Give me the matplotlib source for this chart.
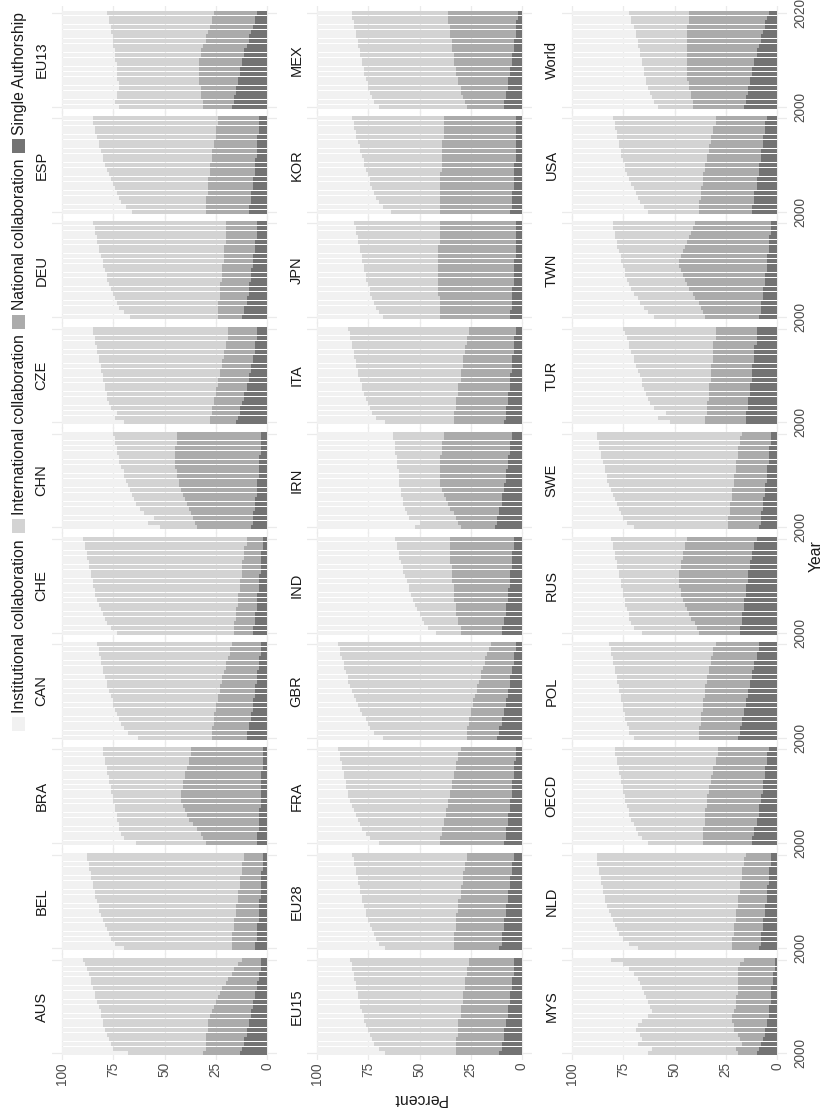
import matplotlib
matplotlib.use("Agg")
import matplotlib.pyplot as plt
from matplotlib.patches import Rectangle
import numpy as np

plt.rcParams['font.family'] = ['Liberation Sans', 'DejaVu Sans']

YEARS = [2000, 2001, 2002, 2003, 2004, 2005, 2006, 2007, 2008, 2009, 2010,
         2011, 2012, 2013, 2014, 2015, 2016, 2017, 2018, 2019, 2020]
YEAR_TICKS = [2000, 2020]
PCT_TICKS = [0, 25, 50, 75, 100]

COUNTRIES = ["AUS", "BEL", "BRA", "CAN", "CHE", "CHN", "CZE", "DEU", "ESP", "EU13",
             "EU15", "EU28", "FRA", "GBR", "IND", "IRN", "ITA", "JPN", "KOR", "MEX",
             "MYS", "NLD", "OECD", "POL", "RUS", "SWE", "TUR", "TWN", "USA", "World"]

CATEGORIES = ["Institutional collaboration", "International collaboration",
              "National collaboration", "Single Authorship"]
CAT_COLORS = ["#F1F1F1", "#D3D3D3", "#ABABAB", "#737373"]

# shares (%) per year 2000..2020 : single authorship, national, international
AUS_S = [13,12,11,11,10,10,9,9,8,8,7,7,6,6,5,5,4,4,3,3,3]
AUS_N = [18,18,19,19,20,19,20,20,20,19,19,18,18,17,17,15,15,13,13,11,9]
AUS_I = [37,45,46,47,48,50,51,51,53,54,56,58,60,61,63,66,67,70,72,75,78]

BEL_S = [6,6,5,5,5,5,4,4,4,4,4,3,3,3,3,3,3,2,2,2,2]
BEL_N = [11,11,12,12,11,11,12,11,11,11,10,11,11,10,10,10,9,10,10,9,9]
BEL_I = [53,57,59,60,62,63,64,66,67,67,69,70,70,72,72,73,74,75,75,77,77]

BRA_S = [5,5,5,4,4,4,4,4,3,3,3,3,3,3,3,3,2,2,2,2,2]
BRA_N = [25,26,27,30,32,34,35,36,38,39,39,39,38,38,37,37,37,36,36,35,35]
BRA_I = [34,39,39,38,36,35,34,34,33,33,33,34,35,36,37,38,39,41,41,43,43]

CAN_S = [10,10,9,9,8,8,7,7,7,6,6,6,5,5,5,4,4,4,3,3,3]
CAN_N = [17,17,18,17,18,18,18,18,17,18,17,17,17,17,16,16,16,15,15,15,14]
CAN_I = [36,41,43,45,46,47,49,50,51,52,54,55,56,57,59,60,61,62,64,64,66]

CHE_S = [7,7,6,6,6,5,5,5,5,4,4,4,4,3,3,3,3,3,2,2,2]
CHE_N = [9,9,10,9,9,10,9,9,9,9,9,9,8,9,9,9,8,8,9,8,8]
CHE_I = [57,60,62,64,65,66,68,69,70,71,72,72,74,74,75,75,77,77,78,79,80]

CHN_S = [8,7,7,7,6,6,6,5,5,5,5,4,4,4,4,4,3,3,3,3,3]
CHN_N = [26,28,29,30,32,33,34,36,37,38,38,40,40,41,41,41,42,42,41,41,41]
CHN_I = [18,23,19,23,24,25,25,25,25,25,26,26,26,26,27,27,28,28,30,30,31]

CZE_S = [15,14,13,13,12,11,11,10,10,9,9,8,8,7,7,6,6,6,5,5,5]
CZE_N = [13,14,14,14,14,15,14,15,14,15,14,15,14,15,14,15,14,14,14,14,14]
CZE_I = [42,46,46,49,51,52,53,54,55,56,57,58,59,60,61,62,63,64,65,66,66]

DEU_S = [12,11,11,10,10,9,9,9,8,8,8,7,7,7,6,6,6,5,5,5,5]
DEU_N = [12,13,13,14,13,14,14,14,14,14,14,15,14,14,15,15,14,15,15,15,15]
DEU_I = [43,46,48,49,51,52,53,54,56,56,57,58,59,60,61,61,63,63,64,64,65]

ESP_S = [9,9,8,8,8,7,7,7,6,6,6,6,5,5,5,5,5,4,4,4,4]
ESP_N = [21,21,22,22,21,22,22,22,22,22,22,21,22,22,21,21,20,21,21,20,20]
ESP_I = [36,39,41,42,44,45,46,47,49,50,51,53,53,54,56,56,58,59,59,61,61]

EU13_S = [17,16,16,15,15,14,14,13,13,12,12,11,11,10,9,9,8,7,6,6,5]
EU13_N = [14,15,16,17,17,19,19,20,20,21,21,21,21,21,21,21,21,21,21,21,21]
EU13_I = [41,43,41,41,40,39,40,40,40,40,41,42,42,44,45,45,47,48,50,50,52]

EU15_S = [11,10,10,9,9,9,8,8,7,7,7,6,6,6,5,5,5,4,4,4,4]
EU15_N = [21,22,22,23,22,22,23,23,23,23,23,23,23,23,23,23,23,23,23,22,22]
EU15_I = [35,38,40,41,43,44,45,46,47,48,49,50,51,51,53,53,54,55,56,57,58]

EU28_S = [11,10,10,10,9,9,9,8,8,8,7,7,7,6,6,6,5,5,5,4,4]
EU28_N = [22,23,23,23,23,23,23,24,23,23,24,23,23,24,23,23,24,23,23,23,23]
EU28_I = [34,37,38,39,41,42,43,44,45,46,47,48,49,49,51,51,52,53,54,55,56]

FRA_S = [9,8,8,8,7,7,7,6,6,6,5,5,5,5,4,4,4,4,3,3,3]
FRA_N = [31,32,31,31,31,31,30,31,30,30,30,30,29,29,29,29,28,28,28,28,27]
FRA_I = [30,34,37,39,41,42,44,45,47,48,50,50,52,52,54,54,56,56,58,58,60]

GBR_S = [12,11,11,10,10,9,9,8,8,7,7,6,6,6,5,5,4,4,4,3,3]
GBR_N = [15,16,16,16,16,16,16,16,16,16,15,16,15,14,15,14,14,14,13,13,12]
GBR_I = [41,45,47,49,50,53,54,56,57,59,61,62,64,65,66,68,69,70,72,73,75]

IND_S = [10,10,9,9,8,8,8,7,7,7,6,6,6,6,5,5,5,5,4,4,4]
IND_N = [20,20,22,22,24,24,24,26,26,26,27,28,28,28,29,30,30,30,31,31,31]
IND_I = [12,16,17,18,18,19,20,20,21,22,22,22,23,24,24,24,25,25,26,26,27]

IRN_S = [13,12,12,11,11,10,10,10,9,9,8,8,8,7,7,7,6,6,6,5,5]
IRN_N = [17,19,20,22,24,26,27,28,30,31,32,32,32,33,33,33,33,33,33,33,33]
IRN_I = [22,19,23,23,22,22,21,21,20,20,20,20,20,21,21,21,23,23,23,25,25]

ITA_S = [9,8,8,8,7,7,7,6,6,6,6,5,5,5,5,4,4,4,4,3,3]
ITA_N = [24,25,25,24,25,25,24,25,25,24,24,25,24,24,24,24,24,23,23,23,23]
ITA_I = [34,38,40,42,43,44,46,47,47,49,50,50,52,52,53,54,55,56,57,58,59]

JPN_S = [6,6,5,5,5,5,5,4,4,4,4,4,4,3,3,3,3,3,3,3,3]
JPN_N = [34,34,35,35,35,36,36,37,37,37,37,37,37,38,38,38,37,37,37,37,37]
JPN_I = [28,30,31,32,33,33,33,34,35,35,36,36,37,37,38,38,40,40,41,41,42]

KOR_S = [6,5,5,5,5,4,4,4,4,4,4,3,3,3,3,3,3,3,3,3,3]
KOR_N = [34,35,35,35,35,36,36,36,36,35,35,36,36,36,36,36,35,35,35,35,35]
KOR_I = [24,28,30,31,32,33,34,34,35,37,38,38,39,40,40,41,43,43,44,44,45]

MEX_S = [9,9,8,8,7,7,7,6,6,5,5,5,4,4,4,3,3,3,3,2,2]
MEX_N = [18,19,21,22,23,24,24,26,26,28,28,28,30,30,30,32,32,32,33,34,34]
MEX_I = [43,44,44,44,45,44,45,45,45,45,45,46,45,46,46,46,46,47,46,47,47]

MYS_S = [10,9,8,7,6,6,5,5,4,4,4,3,3,3,3,2,2,2,1,1,1]
MYS_N = [9,11,9,11,13,15,16,17,18,17,16,17,17,16,16,17,17,17,18,17,15]
MYS_I = [44,41,51,48,48,48,47,44,41,40,42,43,44,46,47,48,49,51,53,57,65]

NLD_S = [9,8,8,8,7,7,7,6,6,6,5,5,5,5,4,4,4,4,3,3,3]
NLD_N = [13,14,14,13,14,14,13,14,14,13,14,14,13,13,14,13,13,13,13,13,12]
NLD_I = [46,50,53,56,57,58,60,61,62,64,65,65,67,67,68,69,70,70,72,72,73]

OECD_S = [12,12,11,11,10,10,9,9,9,8,8,7,7,7,6,6,6,5,5,5,4]
OECD_N = [24,24,25,25,25,25,26,26,25,26,26,26,26,25,26,25,25,25,25,24,25]
OECD_I = [27,30,32,33,35,36,37,37,39,40,40,42,42,44,44,46,46,48,48,50,50]

POL_S = [19,18,18,17,17,16,16,15,15,14,14,13,13,12,12,11,11,10,10,9,9]
POL_N = [19,20,20,20,20,21,20,21,21,21,21,22,21,22,21,22,21,22,21,22,21]
POL_I = [32,34,34,36,37,37,39,39,40,41,42,42,44,44,46,46,48,48,50,50,52]

RUS_S = [18,18,17,17,17,16,16,16,15,15,15,14,14,14,13,13,12,12,11,11,10]
RUS_N = [20,21,23,25,26,28,29,30,32,32,33,34,34,34,34,34,34,34,34,34,34]
RUS_I = [28,31,31,30,29,29,29,28,28,28,28,28,29,29,31,31,33,33,35,35,37]

SWE_S = [9,8,8,8,7,7,7,6,6,6,5,5,5,5,4,4,4,4,3,3,3]
SWE_N = [15,16,16,15,16,16,15,16,16,15,16,16,15,15,16,15,15,15,15,15,14]
SWE_I = [46,49,51,53,54,55,57,58,59,61,62,62,64,64,65,67,67,68,69,70,71]

TUR_S = [15,15,15,14,14,14,13,13,13,12,12,12,12,11,11,11,11,10,10,10,10]
TUR_N = [20,20,19,20,20,19,20,20,20,20,20,20,20,20,20,20,20,21,20,20,20]
TUR_I = [17,23,20,26,28,30,31,32,33,34,35,36,37,39,39,40,41,41,43,44,45]

TWN_S = [9,8,8,8,7,7,7,6,6,6,5,5,5,5,4,4,4,4,3,3,3]
TWN_N = [26,28,29,30,33,34,36,38,39,40,42,43,43,42,42,41,40,39,39,38,37]
TWN_I = [25,27,28,29,28,29,28,28,28,28,27,27,28,29,31,33,34,36,37,39,40]

USA_S = [12,12,11,11,11,10,10,10,9,9,9,8,8,8,7,7,7,6,6,6,5]
USA_N = [26,26,27,26,26,27,26,26,27,26,26,26,26,25,26,25,25,25,25,24,25]
USA_I = [25,27,29,31,32,33,35,36,37,39,39,41,42,43,44,45,46,47,48,49,50]

World_S = [16,15,15,14,14,13,13,12,12,11,11,10,10,9,8,8,7,6,6,5,4]
World_N = [25,26,27,28,29,30,31,32,32,33,33,34,34,35,36,36,37,38,37,38,39]
World_I = [17,19,19,20,20,21,20,21,21,22,22,23,23,24,24,25,25,26,28,28,29]

DATA = {code: (globals()[code + "_S"], globals()[code + "_N"], globals()[code + "_I"])
        for code in COUNTRIES}

# ---------------------------------------------------------------- layout
W, H = 822, 1109
fig = plt.figure(figsize=(W / 100, H / 100), dpi=100)


def frect(x, y, w, h):
    return [x / W, 1 - (y + h) / H, w / W, h / H]


PX_PCT = 2.05
PX_YR = 4.68
Y_LO, Y_HI = 1998.505, 2021.495
TXT = "#1A1A1A"
TICK = "#4D4D4D"

for j, code in enumerate(COUNTRIES):
    c, k = divmod(j, 10)
    r = 9 - k
    x100 = 62 + 255 * c
    y2000 = 106.6 + 105.2 * r
    left = x100 - 5 * PX_PCT
    top = y2000 - (Y_HI - 2000) * PX_YR
    ax = fig.add_axes(frect(left, top, 110 * PX_PCT, (Y_HI - Y_LO) * PX_YR))
    ax.set_facecolor("none")
    ax.set_xlim(105, -5)
    ax.set_ylim(Y_LO, Y_HI)
    s, n, i = (np.array(v, dtype=float) for v in DATA[code])
    inst = 100 - s - n - i
    segs = [s, n, i, inst]
    cols = [CAT_COLORS[3], CAT_COLORS[2], CAT_COLORS[1], CAT_COLORS[0]]
    base = np.zeros(len(YEARS))
    for vals, col in zip(segs, cols):
        ax.barh(YEARS, vals, left=base, height=0.86, color=col, linewidth=0)
        base = base + vals
    ax.set_xticks(PCT_TICKS)
    ax.set_yticks(YEAR_TICKS)
    # adjacent facets share the boundary: show only one year label there
    ax.set_yticklabels(["2000", "2020" if r == 0 else ""])
    ax.set_axisbelow(True)
    ax.grid(True, color="#EBEBEB", linewidth=0.9)
    for sp in ax.spines.values():
        sp.set_visible(False)
    ax.yaxis.tick_right()
    ax.tick_params(length=0, labelsize=9.8, labelcolor=TICK)
    ax.tick_params(axis="x", labelbottom=(r == 9), labelrotation=90, pad=1.2)
    ax.tick_params(axis="y", labelright=(c == 2), labelleft=False,
                   labelrotation=90, pad=4.2)
    for lab in ax.get_yticklabels():
        lab.set_va("center")
    fig.text((41.5 + 255 * c) / W, 1 - (y2000 - 10 * PX_YR) / H, code,
             rotation=90, ha="center", va="center", fontsize=10.5, color=TXT)

# axis titles
fig.text(419 / W, 1 - 1099 / H, "Percent", rotation=180, ha="center",
         va="center", fontsize=11.3, color=TXT)
fig.text(816 / W, 1 - 556 / H, "Year", rotation=90, ha="center",
         va="center", fontsize=11.3, color=TXT)

# legend (rotated, reading bottom to top)
renderer = fig.canvas.get_renderer()
y_cur = 731.0
for cat, col in zip(CATEGORIES, CAT_COLORS):
    fig.patches.append(Rectangle((12 / W, 1 - y_cur / H), 13 / W, 14 / H,
                                 transform=fig.transFigure, facecolor=col,
                                 edgecolor="none"))
    y_cur -= 14 + 4
    t = fig.text(19.5 / W, 1 - y_cur / H, cat, rotation=90, ha="center",
                 va="bottom", fontsize=11.3, color=TXT)
    bb = t.get_window_extent(renderer)
    y_cur -= bb.height + 6

fig.savefig("out.png", dpi=100)
